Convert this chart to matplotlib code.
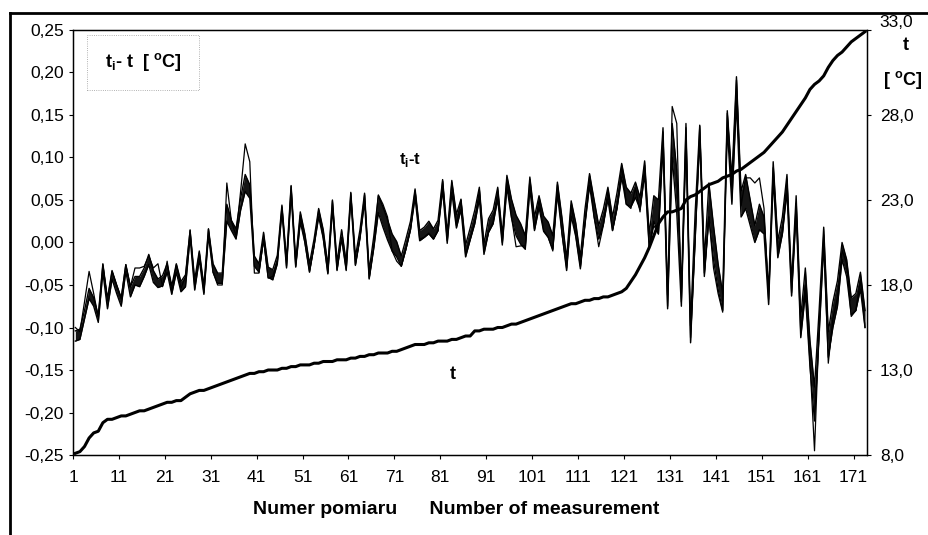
import numpy as np
import matplotlib
matplotlib.use("Agg")
import matplotlib.pyplot as plt
from matplotlib.lines import Line2D

plt.rcParams['font.family'] = ['Liberation Sans', 'DejaVu Sans']

# measurement numbers 1..173
n = np.arange(1, 174)

# t - reference temperature [°C] (right axis)
t = [8.1, 8.2, 8.5, 9.0, 9.3, 9.4, 9.9, 10.1, 10.1, 10.2,
     10.3, 10.3, 10.4, 10.5, 10.6, 10.6, 10.7, 10.8, 10.9, 11.0,
     11.1, 11.1, 11.2, 11.2, 11.4, 11.6, 11.7, 11.8, 11.8, 11.9,
     12.0, 12.1, 12.2, 12.3, 12.4, 12.5, 12.6, 12.7, 12.8, 12.8,
     12.9, 12.9, 13.0, 13.0, 13.0, 13.1, 13.1, 13.2, 13.2, 13.3,
     13.3, 13.3, 13.4, 13.4, 13.5, 13.5, 13.5, 13.6, 13.6, 13.6,
     13.7, 13.7, 13.8, 13.8, 13.9, 13.9, 14.0, 14.0, 14.0, 14.1,
     14.1, 14.2, 14.3, 14.4, 14.5, 14.5, 14.5, 14.6, 14.6, 14.7,
     14.7, 14.7, 14.8, 14.8, 14.9, 15.0, 15.0, 15.3, 15.3, 15.4,
     15.4, 15.4, 15.5, 15.5, 15.6, 15.7, 15.7, 15.8, 15.9, 16.0,
     16.1, 16.2, 16.3, 16.4, 16.5, 16.6, 16.7, 16.8, 16.9, 16.9,
     17.0, 17.1, 17.1, 17.2, 17.2, 17.3, 17.3, 17.4, 17.5, 17.6,
     17.8, 18.2, 18.6, 19.1, 19.6, 20.2, 20.9, 21.6, 22.0, 22.3,
     22.3, 22.4, 22.5, 23.0, 23.2, 23.3, 23.5, 23.7, 23.9, 24.0,
     24.1, 24.3, 24.4, 24.5, 24.7, 24.8, 25.0, 25.2, 25.4, 25.6,
     25.8, 26.1, 26.4, 26.7, 27.0, 27.4, 27.8, 28.2, 28.6, 29.0,
     29.5, 29.8, 30.0, 30.3, 30.8, 31.2, 31.5, 31.7, 32.0, 32.3,
     32.5, 32.7, 32.9]

# ti - t, middle of the dark band of sensor curves [°C] (left axis)
ti_mid = [-0.110, -0.108, -0.085, -0.060, -0.070, -0.090, -0.030, -0.072, -0.038, -0.055,
          -0.070, -0.030, -0.058, -0.045, -0.046, -0.035, -0.020, -0.040, -0.048, -0.045,
          -0.030, -0.056, -0.030, -0.052, -0.045, 0.010, -0.050, -0.015, -0.056, 0.012,
          -0.030, -0.042, -0.042, 0.035, 0.020, 0.010, 0.045, 0.070, 0.060, -0.022,
          -0.030, 0.008, -0.035, -0.038, -0.020, 0.040, -0.025, 0.062, -0.025, 0.030,
          0.005, -0.030, 0.000, 0.035, 0.010, -0.032, 0.045, -0.028, 0.010, -0.028,
          0.055, -0.022, 0.010, 0.053, -0.038, 0.000, 0.045, 0.030, 0.015, 0.000,
          -0.008, -0.022, -0.002, 0.020, 0.058, 0.008, 0.012, 0.018, 0.010, 0.020,
          0.068, 0.005, 0.066, 0.025, 0.045, -0.010, 0.010, 0.030, 0.058, -0.008,
          0.020, 0.030, 0.058, 0.003, 0.072, 0.040, 0.020, 0.010, 0.000, 0.070,
          0.022, 0.048, 0.022, 0.015, 0.000, 0.064, 0.020, -0.026, 0.040, 0.015,
          -0.024, 0.030, 0.074, 0.040, 0.012, 0.030, 0.058, 0.022, 0.050, 0.085,
          0.055, 0.050, 0.062, 0.046, 0.088, 0.002, 0.040, 0.030, 0.125, -0.070,
          0.120, 0.060, -0.065, 0.130, -0.108, 0.020, 0.130, -0.030, 0.050, 0.000,
          -0.040, -0.070, 0.145, 0.060, 0.180, 0.045, 0.060, 0.035, 0.010, 0.030,
          0.020, -0.065, 0.085, -0.008, 0.020, 0.070, -0.055, 0.045, -0.100, -0.045,
          -0.130, -0.190, -0.095, 0.008, -0.120, -0.085, -0.060, -0.010, -0.030, -0.075,
          -0.070, -0.045, -0.090]

# width of the dark band (spread between sensors)
ti_width = [0.012, 0.012, 0.010, 0.012, 0.010, 0.008, 0.010, 0.012, 0.010, 0.010,
            0.010, 0.008, 0.012, 0.010, 0.012, 0.010, 0.012, 0.014, 0.010, 0.012,
            0.010, 0.010, 0.010, 0.012, 0.014, 0.008, 0.012, 0.010, 0.010, 0.008,
            0.010, 0.012, 0.012, 0.020, 0.012, 0.012, 0.014, 0.020, 0.016, 0.012,
            0.010, 0.008, 0.012, 0.012, 0.010, 0.008, 0.010, 0.010, 0.008, 0.012,
            0.010, 0.010, 0.008, 0.010, 0.010, 0.010, 0.010, 0.010, 0.010, 0.010,
            0.008, 0.010, 0.010, 0.010, 0.010, 0.014, 0.020, 0.024, 0.024, 0.020,
            0.018, 0.012, 0.012, 0.010, 0.010, 0.012, 0.012, 0.014, 0.012, 0.012,
            0.012, 0.012, 0.014, 0.016, 0.012, 0.014, 0.014, 0.016, 0.014, 0.012,
            0.016, 0.016, 0.014, 0.012, 0.014, 0.022, 0.024, 0.024, 0.016, 0.014,
            0.016, 0.014, 0.018, 0.018, 0.016, 0.014, 0.018, 0.014, 0.018, 0.016,
            0.014, 0.018, 0.014, 0.020, 0.016, 0.018, 0.014, 0.016, 0.018, 0.016,
            0.020, 0.016, 0.018, 0.014, 0.016, 0.016, 0.030, 0.040, 0.020, 0.016,
            0.040, 0.050, 0.020, 0.020, 0.020, 0.030, 0.016, 0.020, 0.040, 0.040,
            0.030, 0.020, 0.020, 0.030, 0.030, 0.030, 0.040, 0.030, 0.020, 0.030,
            0.020, 0.016, 0.020, 0.020, 0.020, 0.020, 0.016, 0.020, 0.024, 0.030,
            0.030, 0.040, 0.030, 0.020, 0.030, 0.030, 0.030, 0.020, 0.020, 0.020,
            0.020, 0.020, 0.020]

# one sensor curve that strays from the band
ti_thin = [-0.100, -0.105, -0.070, -0.034, -0.060, -0.088, -0.026, -0.068, -0.034, -0.050,
           -0.066, -0.026, -0.052, -0.030, -0.030, -0.028, -0.016, -0.030, -0.025, -0.052,
           -0.022, -0.058, -0.026, -0.054, -0.040, 0.015, -0.052, -0.012, -0.059, 0.016,
           -0.035, -0.050, -0.050, 0.070, 0.025, 0.008, 0.060, 0.116, 0.095, -0.036,
           -0.036, 0.004, -0.042, -0.040, -0.022, 0.042, -0.028, 0.066, -0.028, 0.032,
           0.000, -0.034, -0.004, 0.038, 0.005, -0.036, 0.049, -0.032, 0.006, -0.032,
           0.058, -0.026, 0.006, 0.056, -0.042, -0.004, 0.056, 0.045, 0.030, -0.010,
           -0.022, -0.028, -0.008, 0.015, 0.061, 0.004, 0.006, 0.010, 0.004, 0.014,
           0.072, 0.002, 0.070, 0.020, 0.050, -0.014, 0.004, 0.024, 0.062, -0.010,
           0.012, 0.024, 0.061, 0.000, 0.076, 0.030, -0.005, -0.004, -0.004, 0.074,
           0.016, 0.050, 0.014, 0.006, -0.010, 0.068, 0.010, -0.030, 0.044, 0.008,
           -0.028, 0.022, 0.078, 0.030, -0.005, 0.020, 0.061, 0.014, 0.040, 0.090,
           0.045, 0.040, 0.064, 0.036, 0.091, -0.006, 0.020, 0.010, 0.130, -0.075,
           0.160, 0.140, -0.070, 0.135, -0.112, 0.000, 0.137, -0.036, 0.030, -0.030,
           -0.060, -0.082, 0.152, 0.062, 0.191, 0.043, 0.076, 0.076, 0.070, 0.076,
           0.040, -0.067, 0.088, -0.009, 0.010, 0.074, -0.059, 0.046, -0.106, -0.050,
           -0.140, -0.245, -0.100, 0.009, -0.142, -0.090, -0.065, -0.009, -0.025, -0.087,
           -0.080, -0.044, -0.100]

left_ticks = [-0.25, -0.20, -0.15, -0.10, -0.05, 0.00, 0.05, 0.10, 0.15, 0.20, 0.25]
right_ticks = [8.0, 13.0, 18.0, 23.0, 28.0, 33.0]
x_labels = list(range(1, 172, 10))

mid = np.array(ti_mid)
w = np.array(ti_width)

fig = plt.figure(figsize=(9.29, 5.35), dpi=100)
ax = fig.add_axes([0.0786, 0.1495, 0.855, 0.7945])

ax.fill_between(n, mid - w / 2, mid + w / 2, color='#151515', lw=0)
ax.plot(n, mid - w / 2, color='black', lw=1.0)
ax.plot(n, mid + w / 2, color='black', lw=1.0)
ax.plot(n, ti_thin, color='black', lw=0.9)

ax.set_xlim(0.5, 173.5)
ax.set_ylim(-0.25, 0.25)
ax.set_yticks(left_ticks)
ax.set_yticklabels([f"{v:.2f}".replace('.', ',') for v in left_ticks])
ax.set_xticks([k - 0.5 for k in x_labels])
ax.set_xticklabels([str(k) for k in x_labels])
ax.tick_params(labelsize=12.5, length=3, width=0.8, direction='out')
ax.tick_params(axis='x', pad=8)
for s in ax.spines.values():
    s.set_linewidth(1.0)

ax2 = ax.twinx()
ax2.plot(n, t, color='black', lw=2.2)
ax2.set_ylim(8, 33)
ax2.set_yticks(right_ticks)
ax2.set_yticklabels([f"{v:.1f}".replace('.', ',') for v in right_ticks])
ax2.tick_params(labelsize=12.5, length=3, width=0.8, pad=6)
ax2.set_xlim(0.5, 173.5)
# top label sits a little above the frame in the reference
ax2.get_yticklabels()[-1].set_va('bottom')

fig.text(0.491, 0.047, "Numer pomiaru      Number of measurement", fontsize=14,
         fontweight='bold', ha='center', va='center')

# text labels inside plot
ax.text(0.04, 0.925, r"t$_\mathregular{i}$- t  [ $^\mathregular{o}$C]", transform=ax.transAxes,
        fontsize=13, fontweight='bold', va='center')
ax.add_patch(plt.Rectangle((0.018, 0.859), 0.14, 0.129, transform=ax.transAxes,
                           fill=False, ls=':', lw=0.6, ec='#999999'))
ax.text(0.424, 0.694, r"t$_\mathregular{i}$-t", transform=ax.transAxes,
        fontsize=12, fontweight='bold', ha='center', va='center')
ax.text(0.478, 0.19, "t", transform=ax.transAxes,
        fontsize=13, fontweight='bold', ha='center', va='center')
fig.text(0.975, 0.915, "t", fontsize=13, fontweight='bold', ha='center', va='center')
fig.text(0.972, 0.85, r"[ $^\mathregular{o}$C]", fontsize=13, fontweight='bold',
         ha='center', va='center')

# outer frame of the scanned figure
fig.add_artist(Line2D([10 / 929, 1], [1 - 13 / 535, 1 - 13 / 535], color='black', lw=2))
fig.add_artist(Line2D([10 / 929, 10 / 929], [0, 1 - 13 / 535], color='black', lw=2))

fig.savefig("out.png", dpi=100)
